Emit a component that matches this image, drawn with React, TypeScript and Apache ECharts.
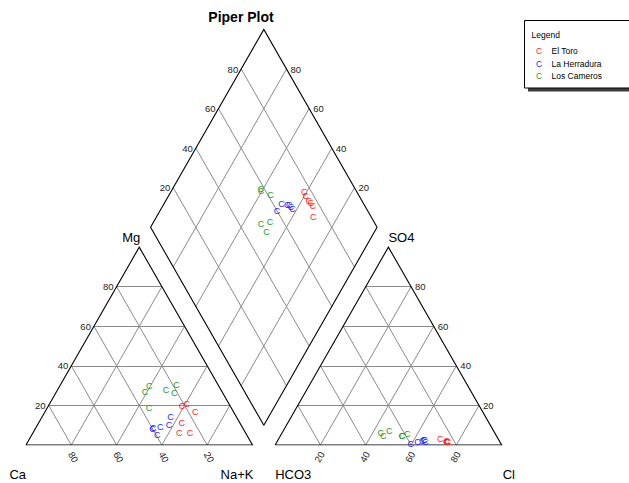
import React, { useEffect, useRef } from "react";
import * as echarts from "echarts";

const FONT = '"Liberation Sans", Arial, Helvetica, sans-serif';

// ---- data ----
const TICKS = [20, 40, 60, 80];
const SITE_NAMES = ["El Toro", "La Herradura", "Los Cameros"];
const SITE_COLORS = ["#ff1f1f", "#1f1fff", "#1f9a1f"];
const AXIS_NAMES = ["Ca", "Mg", "Na+K", "HCO3", "SO4", "Cl"];

// El Toro (percent of meq)
const elToroCa = [21.2, 18.7, 25.7, 29.2, 16.9, 24.5];
const elToroMg = [19.9, 20.6, 11.1, 6.2, 16.8, 6.2];
const elToroNaK = [58.9, 60.7, 63.2, 64.6, 66.3, 69.3];
const elToroHCO3 = [23.3, 23.6, 23.5, 23.1, 23.0, 25.7];
const elToroSO4 = [1.8, 1.6, 1.7, 1.6, 1.7, 2.9];
const elToroCl = [74.9, 74.8, 74.8, 75.3, 75.3, 71.4];

// La Herradura
const herraduraCa = [39.5, 40.1, 36.1, 39.6, 29.0, 31.9];
const herraduraMg = [8.6, 8.2, 9.3, 4.9, 14.3, 10.0];
const herraduraNaK = [51.9, 51.7, 54.6, 55.5, 56.7, 58.1];
const herraduraHCO3 = [36.3, 40.0, 34.0, 33.1, 32.9, 32.8];
const herraduraSO4 = [1.7, 0.3, 2.2, 2.5, 2.3, 1.7];
const herraduraCl = [62.0, 59.7, 63.8, 64.4, 64.8, 65.5];

// Los Cameros
const camerosCa = [30.6, 34.2, 36.3, 24.3, 18.4, 21.3];
const camerosMg = [30.0, 26.6, 18.8, 27.8, 30.2, 26.4];
const camerosNaK = [39.4, 39.2, 44.9, 47.9, 51.4, 52.3];
const camerosHCO3 = [42.0, 41.6, 38.9, 50.3, 46.0, 49.9];
const camerosSO4 = [4.3, 4.5, 5.6, 6.1, 7.3, 4.8];
const camerosCl = [53.7, 53.9, 55.5, 43.6, 46.7, 45.3];

const SITES = [
  [elToroCa, elToroMg, elToroNaK, elToroHCO3, elToroSO4, elToroCl],
  [herraduraCa, herraduraMg, herraduraNaK, herraduraHCO3, herraduraSO4, herraduraCl],
  [camerosCa, camerosMg, camerosNaK, camerosHCO3, camerosSO4, camerosCl],
];

// ---- geometry (data units) ----
const SQ = Math.sqrt(3) / 2;
const L = 100;
const GAP = 10;
const TH = L * SQ;
const XMAX = 2 * L + GAP;
const YMAX = 190;
const PX = 2.265;
const PY = 2.285;
const BASE_Y = 445;
const LEFT_X = 26;

function cationXY(ca: number, mg: number, nak: number) {
  const t = ca + mg + nak;
  const a = nak / t, m = mg / t;
  return [L * (a + m / 2), TH * m];
}
function anionXY(hco3: number, so4: number, cl: number) {
  const t = hco3 + so4 + cl;
  const c = cl / t, s = so4 / t;
  return [L + GAP + L * (c + s / 2), TH * s];
}
function diamondUV(u: number, v: number) {
  return [L + GAP / 2 + ((v - u) * L) / 2, GAP * SQ + (u + v) * TH];
}

type Lbl = { p: number[]; text: string; dx: number; dy: number; align: string; rot: number; size: number; color: string };

function buildLabels(): Lbl[] {
  const out: Lbl[] = [];
  const tk = (p: number[], t: number, dx: number, dy: number, align: string, rot = 0) =>
    out.push({ p, text: String(t), dx, dy, align, rot, size: 9.5, color: "#222" });
  TICKS.forEach((t) => {
    const f = t / 100;
    // left triangle: Mg on left edge, Ca on base
    tk(cationXY(1 - f, f, 0), t, -3, 0, "right");
    tk(cationXY(f, 0, 1 - f), t, 2, 12, "center", -Math.PI / 3);
    // right triangle: SO4 on right edge, Cl on base
    tk(anionXY(0, f, 1 - f), t, 4, 0, "left");
    tk(anionXY(1 - f, 0, f), t, -1, 12, "center", Math.PI / 3);
    // diamond
    tk(diamondUV(1, f), t, -3, 0, "right");
    tk(diamondUV(f, 1), t, 4, 0, "left");
  });
  const nm = (p: number[], text: string, dx: number, dy: number, align: string) =>
    out.push({ p, text, dx, dy, align, rot: 0, size: 13, color: "#000" });
  nm([0, 0], AXIS_NAMES[0], 0, 29, "right");
  nm([L / 2, TH], AXIS_NAMES[1], 1, -10, "right");
  nm([L, 0], AXIS_NAMES[2], 1, 29, "right");
  nm([L + GAP, 0], AXIS_NAMES[3], 0, 29, "left");
  nm([L + GAP + L / 2, TH], AXIS_NAMES[4], 0, -10, "left");
  nm([XMAX, 0], AXIS_NAMES[5], 1, 29, "left");
  return out;
}

function buildGrid() {
  const lines: number[][][] = [];
  TICKS.forEach((t) => {
    const f = t / 100;
    // left triangle
    lines.push([cationXY(1 - f, f, 0), cationXY(0, f, 1 - f)]);
    lines.push([cationXY(f, 0, 1 - f), cationXY(f, 1 - f, 0)]);
    lines.push([cationXY(1 - f, 0, f), cationXY(0, 1 - f, f)]);
    // right triangle
    lines.push([anionXY(1 - f, f, 0), anionXY(0, f, 1 - f)]);
    lines.push([anionXY(f, 0, 1 - f), anionXY(f, 1 - f, 0)]);
    lines.push([anionXY(1 - f, 0, f), anionXY(0, 1 - f, f)]);
    // diamond
    lines.push([diamondUV(f, 0), diamondUV(f, 1)]);
    lines.push([diamondUV(0, f), diamondUV(1, f)]);
  });
  return lines;
}

function buildOutlines() {
  return [
    [cationXY(100, 0, 0), cationXY(0, 0, 100), cationXY(0, 100, 0), cationXY(100, 0, 0)],
    [anionXY(100, 0, 0), anionXY(0, 0, 100), anionXY(0, 100, 0), anionXY(100, 0, 0)],
    [diamondUV(0, 0), diamondUV(0, 1), diamondUV(1, 1), diamondUV(1, 0), diamondUV(0, 0)],
  ];
}

function sitePoints(s: number[][]) {
  const [ca, mg, nak, hco3, so4, cl] = s;
  const pts: number[][] = [];
  ca.forEach((_, i) => {
    pts.push(cationXY(ca[i], mg[i], nak[i]));
    pts.push(anionXY(hco3[i], so4[i], cl[i]));
    const u = (ca[i] + mg[i]) / (ca[i] + mg[i] + nak[i]);
    const v = (so4[i] + cl[i]) / (hco3[i] + so4[i] + cl[i]);
    pts.push(diamondUV(u, v));
  });
  return pts;
}

export default function App() {
  const ref = useRef<HTMLDivElement>(null);
  useEffect(() => {
    if (!ref.current) return;
    const chart = echarts.init(ref.current, undefined, { renderer: "svg" });
    const labels = buildLabels();
    const gridH = YMAX * PY;
    const option: any = {
      animation: false,
      backgroundColor: "#ffffff",
      title: {
        text: "Piper Plot",
        left: 236,
        top: 5,
        textAlign: "center",
        textStyle: { fontFamily: FONT, fontSize: 14, fontWeight: "bold", color: "#000" },
      },
      grid: {
        left: LEFT_X,
        top: BASE_Y - gridH,
        width: XMAX * PX,
        height: gridH,
        containLabel: false,
        outerBoundsMode: "none",
      },
      xAxis: { type: "value", min: 0, max: XMAX, show: false },
      yAxis: { type: "value", min: 0, max: YMAX, show: false },
      series: [
        {
          type: "lines",
          coordinateSystem: "cartesian2d",
          silent: true,
          lineStyle: { color: "#8a8a8a", width: 1, opacity: 1 },
          data: buildGrid().map((c) => ({ coords: c })),
        },
        {
          type: "lines",
          coordinateSystem: "cartesian2d",
          polyline: true,
          silent: true,
          lineStyle: { color: "#000", width: 1.1, opacity: 1 },
          data: buildOutlines().map((c) => ({ coords: c })),
        },
        ...SITES.map((s, k) => ({
          type: "custom",
          name: SITE_NAMES[k],
          silent: true,
          data: sitePoints(s),
          encode: { x: 0, y: 1 },
          renderItem: (params: any, api: any) => {
            const p = api.coord([api.value(0), api.value(1)]);
            return {
              type: "text",
              x: p[0],
              y: p[1],
              style: {
                text: "C",
                fill: SITE_COLORS[k],
                font: `9px ${FONT}`,
                textAlign: "center",
                textVerticalAlign: "middle",
              },
            };
          },
        })),
        {
          type: "custom",
          silent: true,
          data: labels.map((l) => l.p),
          encode: { x: 0, y: 1 },
          renderItem: (params: any, api: any) => {
            const l = labels[params.dataIndex];
            const p = api.coord(l.p);
            return {
              type: "text",
              x: p[0] + l.dx,
              y: p[1] + l.dy,
              rotation: l.rot,
              style: {
                text: l.text,
                fill: l.color,
                font: `${l.size}px ${FONT}`,
                textAlign: l.align,
                textVerticalAlign: "middle",
              },
            };
          },
        },
      ],
      graphic: [
        { type: "rect", silent: true, shape: { x: 528, y: 24, width: 110, height: 67.5 }, style: { fill: "#3c3c3c" } },
        { type: "rect", silent: true, shape: { x: 524.5, y: 20.5, width: 110, height: 67.5 }, style: { fill: "#fff", stroke: "#000", lineWidth: 1 } },
        { type: "text", silent: true, x: 531.5, y: 35, style: { text: "Legend", font: `8.5px ${FONT}`, fill: "#000", textVerticalAlign: "middle" } },
        ...SITE_NAMES.flatMap((n, i) => [
          { type: "text", silent: true, x: 539, y: 51 + i * 12.5, style: { text: "C", font: `8.5px ${FONT}`, fill: SITE_COLORS[i], textAlign: "center", textVerticalAlign: "middle" } },
          { type: "text", silent: true, x: 551.5, y: 51 + i * 12.5, style: { text: n, font: `8.5px ${FONT}`, fill: "#000", textVerticalAlign: "middle" } },
        ]),
      ],
    };
    chart.setOption(option);
    return () => chart.dispose();
  }, []);
  return <div ref={ref} style={{ position: "absolute", left: 0, top: 0, width: 629, height: 483, background: "#fff" }} />;
}
